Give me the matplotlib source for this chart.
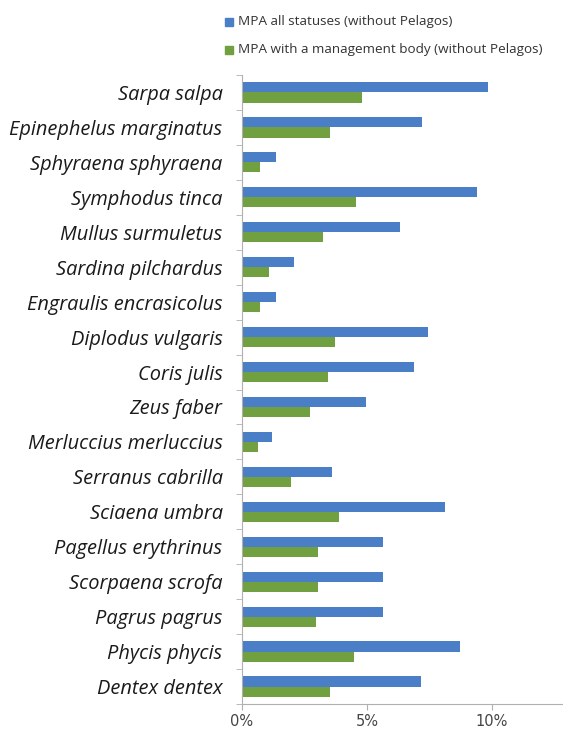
import matplotlib.pyplot as plt
import numpy as np
from matplotlib.ticker import FuncFormatter

species = ['Sarpa salpa', 'Epinephelus marginatus', 'Sphyraena sphyraena',
           'Symphodus tinca', 'Mullus surmuletus', 'Sardina pilchardus',
           'Engraulis encrasicolus', 'Diplodus vulgaris', 'Coris julis',
           'Zeus faber', 'Merluccius merluccius', 'Serranus cabrilla',
           'Sciaena umbra', 'Pagellus erythrinus', 'Scorpaena scrofa',
           'Pagrus pagrus', 'Phycis phycis', 'Dentex dentex']
all_statuses = [9.83, 7.18, 1.35, 9.39, 6.31, 2.09, 1.37, 7.44, 6.87,
                4.96, 1.20, 3.61, 8.12, 5.65, 5.65, 5.63, 8.72, 7.17]
mgmt_body = [4.79, 3.53, 0.71, 4.57, 3.24, 1.08, 0.72, 3.71, 3.43,
             2.71, 0.64, 1.95, 3.89, 3.03, 3.03, 2.96, 4.47, 3.51]
labels = ['MPA all statuses (without Pelagos)',
          'MPA with a management body (without Pelagos)']

blue, green = '#4a7ec6', '#70a040'

fig = plt.figure(figsize=(5.63, 7.36), dpi=100)
ax = fig.add_axes([242 / 563, 1 - 704 / 736, 320 / 563, 629 / 736])

y = np.arange(len(species))[::-1]
h = 0.29
ax.barh(y + h / 2, all_statuses, height=h, color=blue)
ax.barh(y - h / 2, mgmt_body, height=h, color=green)

ax.set_xlim(0, 12.8)
ax.set_ylim(-0.5, len(species) - 0.5)
ax.set_xticks([0, 5, 10])
ax.xaxis.set_major_formatter(FuncFormatter(lambda v, p: f'{v:.0f}%'))
ax.set_yticks(y)
ax.set_yticklabels(species, fontstyle='italic', fontsize=14.4,
                   family='Open Sans', color='#1a1a1a')
ax.set_yticks(np.arange(-0.5, len(species)), minor=True)
ax.tick_params(axis='y', which='major', length=0, pad=14)
ax.tick_params(axis='y', which='minor', length=4, color='#b0b0b0')
ax.tick_params(axis='x', length=4, color='#b0b0b0', labelsize=10.5,
               labelcolor='#444444', pad=3)
for s in ['top', 'right']:
    ax.spines[s].set_visible(False)
for s in ['left', 'bottom']:
    ax.spines[s].set_color('#b0b0b0')

# legend above the chart
for i, (lab, c) in enumerate(zip(labels, [blue, green])):
    yy = 1 - (22 + 28 * i) / 736
    fig.patches.append(plt.Rectangle((225 / 563, yy - 4 / 736), 8 / 563, 8 / 736,
                                     color=c, transform=fig.transFigure))
    fig.text(238 / 563, yy, lab, fontsize=9.7, va='center', family='Open Sans',
             color='#333333')

fig.savefig('out.png', dpi=100)
